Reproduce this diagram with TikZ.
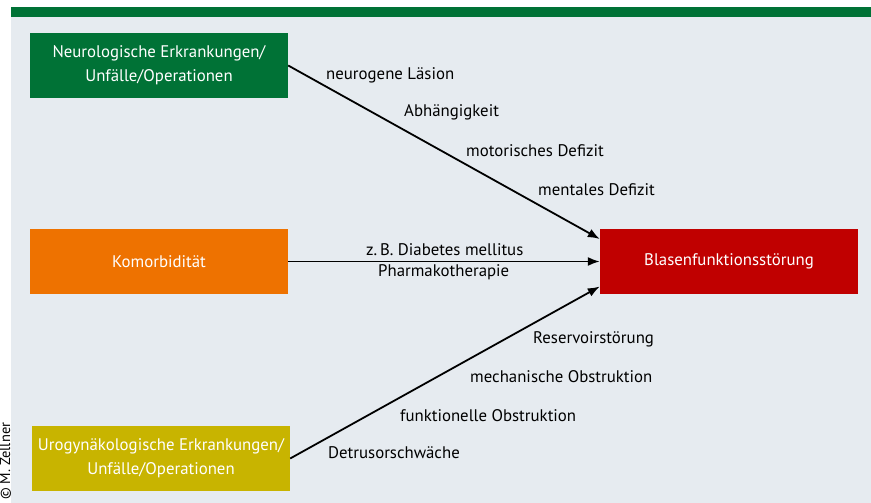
\documentclass[tikz,border=0pt]{standalone}
\usepackage{fontspec}
\setmainfont{PT Sans}
\usetikzlibrary{positioning,arrows.meta}
\tikzset{>={Latex[length=12pt,width=9pt]}}
\definecolor{panelgrau}{RGB}{230,235,240}
\definecolor{neurogruen}{RGB}{0,114,54}
\definecolor{komorange}{RGB}{238,114,0}
\definecolor{urooliv}{RGB}{200,180,0}
\definecolor{blasenrot}{RGB}{192,0,0}
\tikzset{
  box/.style={minimum width=258pt, minimum height=65pt, align=center, text=white, inner sep=0pt, font=\fontsize{16.8}{24}\selectfont},
  lbl/.style={anchor=west, inner sep=0pt, font=\fontsize{16.8}{20}\selectfont}
}

\begin{document}
\begin{tikzpicture}[x=1pt,y=1pt]
      \useasboundingbox (0,0) rectangle (871,503);
      \fill[white] (0,0) rectangle (871,503);
      \fill[panelgrau] (11,0) rectangle (871,486);
      \fill[neurogruen] (11,486) rectangle (871,496);
      \node[rotate=90, anchor=west, inner sep=0pt, font=\fontsize{14.5}{16}\selectfont] (copy) at (5.5,3) {\textcopyright\ M. Zellner};
      % Ursachen links
      \node[box, fill=neurogruen] (n0) at (159,437.5) {Neurologische Erkrankungen/\\Unfälle/Operationen};
      \node[box, fill=komorange, below of=n0, node distance=196pt] (n1) {Komorbidität};
      \node[box, fill=urooliv, below of=n1, node distance=197pt, xshift=2pt] (n2) {Urogynäkologische Erkrankungen/\\Unfälle/Operationen};
      % Folge rechts
      \node[box, fill=blasenrot, right of=n1, node distance=570pt] (n3) {Blasenfunktionsstörung};
      \coordinate (aux1) at ([yshift=22.5pt]n3.west);
      \coordinate (aux2) at ([yshift=-25pt]n3.west);
      \draw[->, line width=1.8pt] (n0.east) to (aux1);
      \draw[->, line width=1.8pt] (n1.east) to (n3.west);
      \draw[->, line width=1.8pt] (n2.east) to (aux2);
      % Beschriftungen
      \node[lbl] (l1) at (326,428) {neurogene Läsion};
      \node[lbl] (l2) at (404,391) {Abhängigkeit};
      \node[lbl] (l3) at (466,352) {motorisches Defizit};
      \node[lbl] (l4) at (538,313) {mentales Defizit};
      \node[lbl] (l5) at (366,253) {z.\,B. Diabetes mellitus};
      \node[lbl] (l6) at (378,231) {Pharmakotherapie};
      \node[lbl] (l7) at (533,164) {Reservoirstörung};
      \node[lbl] (l8) at (470,126) {mechanische Obstruktion};
      \node[lbl] (l9) at (400,87) {funktionelle Obstruktion};
      \node[lbl] (l10) at (328,50) {Detrusorschwäche};
\end{tikzpicture}
\end{document}
